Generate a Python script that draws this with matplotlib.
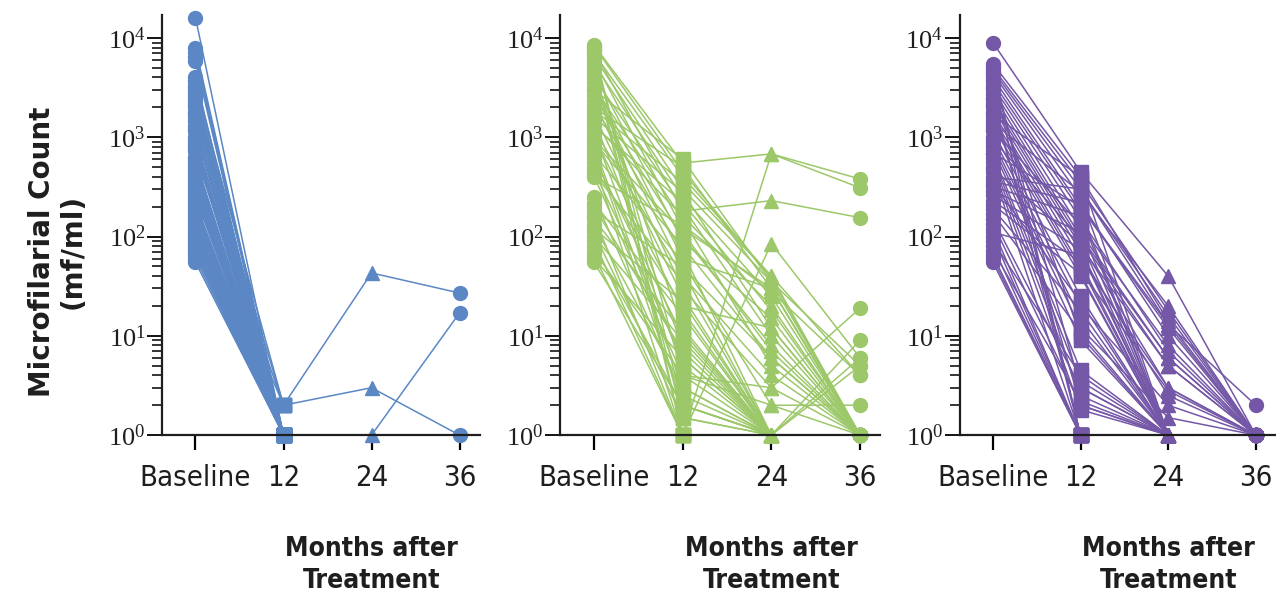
import numpy as np
import matplotlib.pyplot as plt
from matplotlib.ticker import LogLocator, NullFormatter

nan = np.nan

timepoints = ['Baseline', '12', '24', '36']
markers = ['o', 's', '^', 'o']

# panel 1 (blue)
blue_base = [16000, 8000, 7200, 6500, 5800, 4000, 3600, 3300, 3000, 2700,
             2400, 2200, 2000, 1800, 1600, 1450, 1300, 1150, 1000, 900,
             800, 720, 640, 570, 500, 440, 390, 340, 300, 265,
             235, 205, 180, 160, 140, 125, 112, 100, 90, 80,
             72, 65, 60, 55,
             3800, 3100, 2500, 2100, 1700, 1200, 950, 850, 760, 600,
             530, 470, 410, 360, 320, 280, 250, 220, 190, 170,
             150, 132, 118, 106, 95, 85, 76, 68]
blue_m12 = [1, 1, 1, 1, 1, 1, 1, 2, 1, 1,
            1, 1, 1, 1, 1, 1, 1, 1, 1, 1,
            1, 1, 2, 1, 1, 1, 1, 1, 1, 1,
            2, 1, 1, 1, 1, 1, 1, 1, 1, 1,
            1, 1, 1, 1,
            1, 1, 1, 1, 2, 1, 1, 1, 1, 1,
            1, 1, 1, 1, 1, 1, 1, 1, 1, 1,
            1, 1, 1, 1, 1, 1, 1, 1]
blue_m24 = [nan] * len(blue_base)
blue_m36 = [nan] * len(blue_base)
blue_m24[7], blue_m36[7] = 43, 27
blue_m24[22], blue_m36[22] = 3, 1
blue_m24[40], blue_m36[40] = 1, 17

# panel 2 (green)
green_base = [8500, 8000, 7500, 7000, 6500, 6000, 5500, 5000, 4500, 4000,
              3600, 3200, 2900, 2600, 2300, 2100, 1900, 1700, 1500, 1350,
              1200, 1100, 1000, 900, 820, 750, 680, 620, 560, 500,
              460, 430, 410, 400, 250, 220, 200, 180, 160, 150,
              130, 120, 110, 100, 90, 80, 72, 65, 60, 55,
              7800, 6800, 5200, 4200, 3000, 2000, 1600, 1300, 950, 8300]
green_m12 = [550, 1, 180, 400, 300, 120, 250, 1, 90, 200,
             60, 150, 45, 100, 30, 70, 350, 25, 8, 160,
             40, 5, 18, 80, 3, 2, 55, 10, 1, 20,
             6, 35, 4, 130, 2.5, 16, 7, 50, 1, 11,
             3, 22, 1.5, 9, 1, 2, 4, 1, 6, 2,
             2, 4, 1.5, 12, 600, 500, 280, 220, 110, 450]
green_m24 = [680, 680, 230, 40, 35, 30, 25, 85, 15, 10,
             30, 5, 1, 8, 3, 1, 40, 1, 1, 20,
             4, 1, 1, 6, 1, 1, 2, 1, 1, 12,
             1, 1, 2, 28, 1, 1, 1, 6, 1, 1,
             1, 1, 1, 1, 1, 1, 1, 1, 1, 1,
             1, 3, 1, 1, 35, 30, 12, 18, 7, 38]
green_m36 = [380, 310, 155, 1, 5, 1, 1, 6, 1, 1,
             1, 1, 1, 1, 19, 1, 4, 9, 1, 1,
             1, 1, 1, 1, 6, 1, 1, 1, 1, 1,
             5, 1, 2, 4, 1, 1, 1, 1, 1, 1,
             1, 1, 1, 1, 1, 1, 1, 1, 1, 1,
             1, 1, 1, 1, 1, 1, 1, 1, 1, 1]

# panel 3 (purple)
purple_base = [9000, 5500, 5000, 4700, 4400, 4000, 3600, 3300, 3000, 2700,
               2400, 2200, 2000, 1800, 1600, 1450, 1300, 1150, 1000, 900,
               820, 750, 680, 620, 560, 500, 450, 400, 360, 320,
               290, 260, 230, 210, 190, 170, 150, 135, 120, 110,
               100, 90, 80, 72, 65, 60, 55, 5200, 4200, 3800,
               3100, 2500, 2100, 1700, 1400, 1200, 950, 700, 480, 340]
purple_m12 = [450, 400, 350, 300, 250, 200, 180, 150, 120, 100,
              90, 80, 70, 60, 50, 45, 40, 25, 20, 15,
              12, 9, 4.5, 3.5, 2.5, 1.8, 1, 300, 220, 160,
              110, 75, 55, 42, 18, 11, 3, 2, 1, 65,
              1, 4, 1, 2.2, 1, 1, 1, 1, 3, 1,
              10, 1, 2, 400, 280, 130, 95, 200, 85, 22]
purple_m24 = [40, 1, 18, 13, 1, 12, 1, 7, 1, 6,
              1, 5, 1, 3, 1, 2.8, 1, 1, 2, 1,
              1.5, 1, 1, 1, 1, 1, 1, 16, 10, 1,
              6, 1, 1, 1, 1, 1, 1, 1, 1, 2.5,
              1, 1, 1, 1, 1, 1, 1, 1, 1, 1,
              1, 1, 1, 14, 20, 8, 5, 13, 3, 1]
purple_m36 = [1, 1, 1, 2, 1, 1, 1, 1, 1, 1,
              1, 1, 1, 1, 1, 1, 1, 1, 1, 1,
              1, 1, 1, 1, 1, 1, 1, 1, 1, 1,
              1, 1, 1, 1, 1, 1, 1, 1, 1, 1,
              1, 1, 1, 1, 1, 1, 1, 1, 1, 1,
              1, 1, 1, 1, 1, 1, 1, 1, 1, 1]

panels = [
    ('#5b87c5', [blue_base, blue_m12, blue_m24, blue_m36]),
    ('#9cc86a', [green_base, green_m12, green_m24, green_m36]),
    ('#7457a6', [purple_base, purple_m12, purple_m24, purple_m36]),
]

fig = plt.figure(figsize=(12.76, 6.06), dpi=100)
lefts = [0.127, 0.439, 0.752]
widths = [0.249, 0.251, 0.248]

dark = '#1e1e1e'
x = np.arange(len(timepoints))

for (color, cols), left, width in zip(panels, lefts, widths):
    ax = fig.add_axes([left, 0.282, width, 0.693])
    data = np.array(cols, dtype=float).T  # rows = patients

    for row in data:
        ax.plot(x, row, color=color, lw=1.1, clip_on=False, zorder=2)
    for i, m in enumerate(markers):
        ax.plot(np.full(data.shape[0], x[i]), data[:, i], ls='none', marker=m,
                ms=10, color=color, mec=color, clip_on=False, zorder=2)

    ax.set_yscale('log')
    ax.set_ylim(1, 10 ** 4.23)
    ax.set_xlim(-0.38, 3.23)

    ax.yaxis.set_minor_locator(LogLocator(base=10, subs=np.arange(2, 10), numticks=10))
    ax.yaxis.set_minor_formatter(NullFormatter())
    ax.set_yticks([1, 10, 100, 1000, 10000])
    ax.set_yticklabels([r'$\mathregular{10^{%d}}$' % k for k in range(5)],
                       family='Liberation Serif', fontsize=19, color=dark)

    ax.set_xticks(x)
    ax.set_xticklabels(timepoints, family='DejaVu Sans', fontstretch='condensed',
                       fontsize=21, color=dark)

    for s in ['top', 'right']:
        ax.spines[s].set_visible(False)
    for s in ['left', 'bottom']:
        ax.spines[s].set_linewidth(1.6)
        ax.spines[s].set_color(dark)
    ax.tick_params(axis='y', which='major', direction='out', length=11, width=1.3, pad=1)
    ax.tick_params(axis='y', which='minor', direction='out', length=7, width=1.1)
    ax.tick_params(axis='x', direction='out', length=11, width=1.6, pad=10)

    ax.text(2, -0.31, 'Months after\nTreatment', transform=ax.get_xaxis_transform(),
            ha='center', va='center', family='DejaVu Sans', fontstretch='condensed',
            fontweight='bold', fontsize=19, color=dark, linespacing=1.3)

fig.text(0.045, 0.585, 'Microfilarial Count\n(mf/ml)', rotation=90, ha='center',
         va='center', fontsize=20, fontweight='bold', color=dark, linespacing=1.1)

fig.savefig('out.png', dpi=100)
